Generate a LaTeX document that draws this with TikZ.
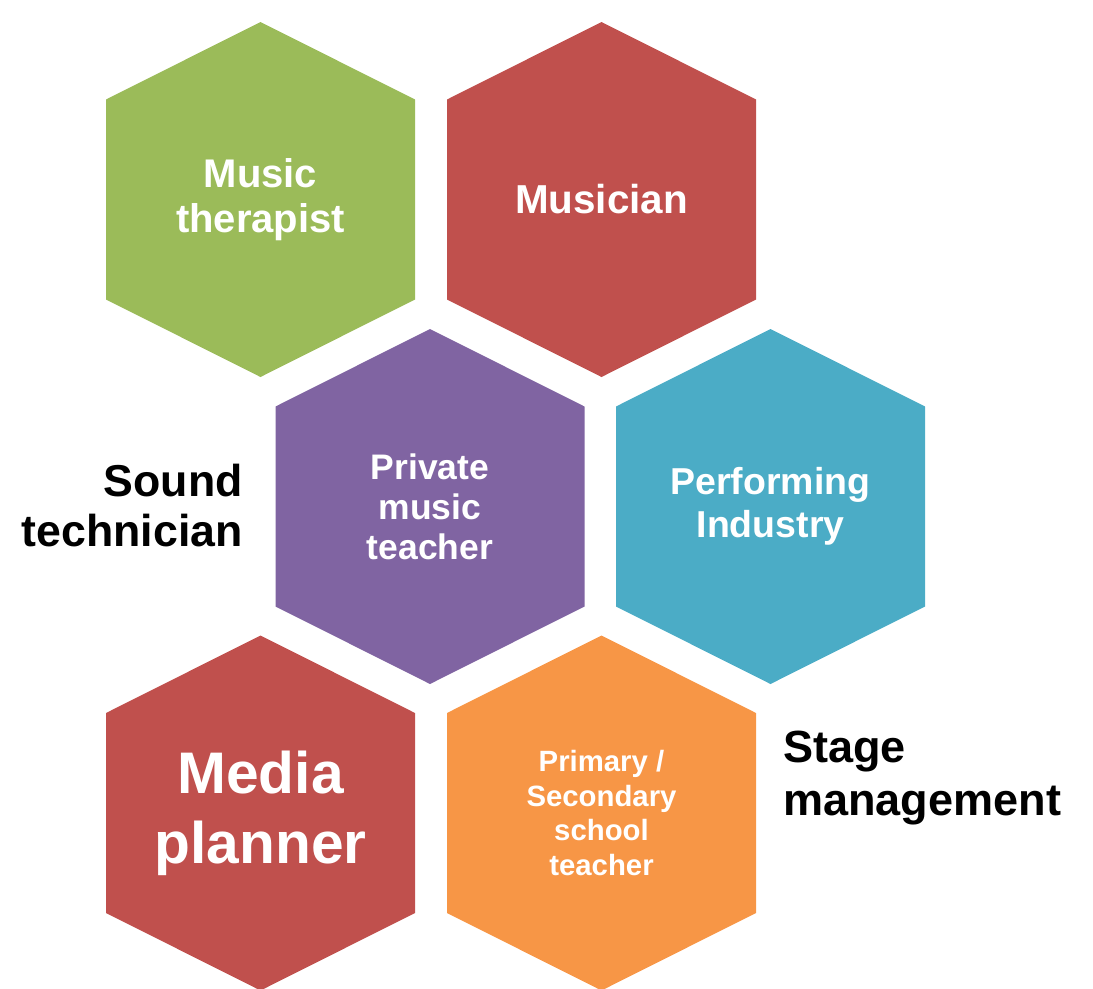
\documentclass[tikz,border=0pt]{standalone}
\usepackage{fontspec}
\setmainfont{Liberation Sans}
\definecolor{hgreen}{HTML}{9BBB59}
\definecolor{hred}{HTML}{C0504D}
\definecolor{hpurple}{HTML}{8064A2}
\definecolor{hblue}{HTML}{4BACC6}
\definecolor{horange}{HTML}{F79646}
\newcommand{\fs}[2]{\fontsize{#1}{#2}\selectfont\bfseries}
\tikzset{
	label/.style={text=white, align=center, inner sep=0pt},
	side/.style={text=black, inner sep=0pt}
}
\begin{document}
	\begin{tikzpicture}[x=0.75pt, y=-0.75pt]
		\useasboundingbox (0,0) rectangle (1093,989);
		% hexagons
		\foreach \x/\y/\c in {260.5/199.5/hgreen, 601.5/199.5/hred, 430/506.5/hpurple,
			770.5/506.5/hblue, 260.5/813/hred, 601.5/813/horange}
		{
			\fill[\c] (\x,\y) ++(0,-177.5) -- ++(154.5,77.5) -- ++(0,200) -- ++(-154.5,77.5)
				-- ++(-154.5,-77.5) -- ++(0,-200) -- cycle;
		}
		\node[label, font=\fs{30pt}{33.75pt}] (therapist) at (260.5,199.5) {Music\\therapist};
		\node[label, font=\fs{30.3pt}{34pt}] (musician) at (601.5,199.5) {Musician};
		\node[label, font=\fs{26.6pt}{30pt}] (private) at (430,506.5) {Private\\music\\teacher};
		\node[label, font=\fs{28.1pt}{32.25pt}] (performing) at (770.5,506.5) {Performing\\Industry};
		\node[label, font=\fs{44pt}{52.5pt}] (media) at (260.5,813) {Media\\planner};
		\node[label, font=\fs{22pt}{25.9pt}] (school) at (601.5,813) {Primary /\\Secondary\\school\\teacher};
		
		\node[side, anchor=east, align=right, font=\fs{33.5pt}{37.5pt}] (sound) at (243,506) {Sound\\technician};
		\node[side, anchor=west, align=left, font=\fs{33.8pt}{39.75pt}] (stage) at (783,778) {Stage\\management};
	\end{tikzpicture}
\end{document}
